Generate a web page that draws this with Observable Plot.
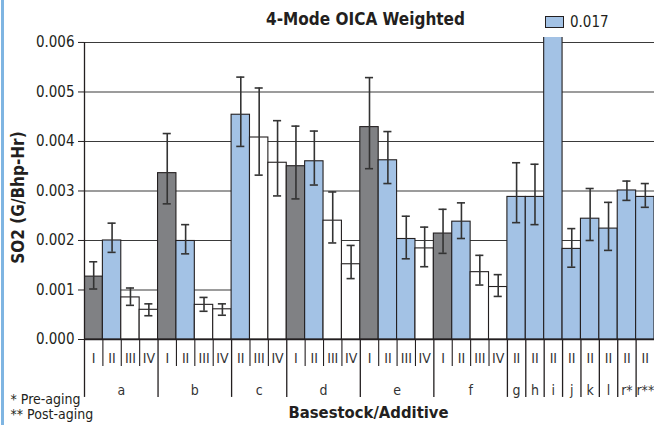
<!DOCTYPE html>
<html>
<head>
<meta charset="utf-8">
<script src="https://cdn.jsdelivr.net/npm/d3@7"></script>
<script src="https://cdn.jsdelivr.net/npm/@observablehq/plot@0.6"></script>
<style>
  html, body { margin: 0; padding: 0; background: #fff; }
  #wrap { position: relative; width: 654px; height: 425px; overflow: hidden;
    font-family: "Liberation Sans Narrow", "DejaVu Sans Condensed", "Arial Narrow", sans-serif; color: #231f20; }
  #edge { position: absolute; left: 1px; top: 0; width: 3px; height: 425px; background: #7fb5e2; }
  #legend { position: absolute; left: 545px; top: 13px; display: flex; align-items: center; font-size: 15px; }
  #legend .box { width: 17px; height: 10px; background: #a3c2e5; border: 1px solid #231f20; margin-right: 6px; }
</style>
</head>
<body>
<div id="wrap"><div id="edge"></div></div>
<script>
const basestock = ["a","a","a","a","b","b","b","b","c","c","c","d","d","d","d","e","e","e","e","f","f","f","f","g","h","i","j","k","l","r*","r**"];
const additive  = ["I","II","III","IV","I","II","III","IV","II","III","IV","I","II","III","IV","I","II","III","IV","I","II","III","IV","II","II","II","II","II","II","II","II"];
// colour key (bar e-III is drawn in the "II" colour)
const shade     = ["I","II","III","IV","I","II","III","IV","II","III","IV","I","II","III","IV","I","II","II","IV","I","II","III","IV","II","II","II","II","II","II","II","II"];
const so2       = [0.00127,0.00200,0.00085,0.00060, 0.00336,0.00199,0.00070,0.00061, 0.00454,0.00408,0.00357, 0.00350,0.00360,0.00240,0.00152, 0.00429,0.00362,0.00203,0.00184, 0.00214,0.00238,0.00136,0.00106, 0.00288,0.00288,0.017,0.00183,0.00244,0.00224,0.00301,0.00288];
const errHigh   = [0.00157,0.00235,0.00104,0.00072, 0.00416,0.00232,0.00085,0.00072, 0.00530,0.00508,0.00442, 0.00431,0.00421,0.00298,0.00190, 0.00529,0.00420,0.00249,0.00227, 0.00263,0.00276,0.00170,0.00131, 0.00357,0.00354,null,0.00224,0.00305,0.00277,0.00320,0.00315];
const errLow    = [0.00102,0.00176,0.00069,0.00048, 0.00274,0.00173,0.00057,0.00049, 0.00390,0.00332,0.00290, 0.00284,0.00312,0.00195,0.00123, 0.00345,0.00315,0.00163,0.00147, 0.00174,0.00204,0.00110,0.00087, 0.00236,0.00232,null,0.00146,0.00200,0.00180,0.00281,0.00267];
const yTicks    = [0, 0.001, 0.002, 0.003, 0.004, 0.005, 0.006];
const legendLabel = "0.017";

const rows = so2.map((v, i) => ({i, basestock: basestock[i], additive: additive[i], shade: shade[i], v, hi: errHigh[i], lo: errLow[i]}));
const n = rows.length;
const groups = [];
rows.forEach((r) => {
  const g = groups[groups.length - 1];
  if (!g || g.name !== r.basestock) groups.push({name: r.basestock, start: r.i, end: r.i + 1});
  else g.end = r.i + 1;
});
const groupStarts = new Set(groups.map(g => g.start));
const inner = d3.range(1, n).filter(i => !groupStarts.has(i));
const errRows = rows.filter(r => r.hi != null);

const ink = "#231f20";
const SHORT = -0.000545, LONG = -0.00117;
const font = '"Liberation Sans Narrow", "DejaVu Sans Condensed", "Arial Narrow", sans-serif';

const chart = Plot.plot({
  width: 654,
  height: 425,
  marginTop: 37,
  marginBottom: 86,
  marginLeft: 84,
  marginRight: 0,
  style: {fontFamily: font, fontSize: "15px", color: ink, background: "transparent", overflow: "visible"},
  x: {domain: [0, n], axis: null},
  y: {domain: [0, 0.0061], axis: null},
  color: {domain: ["I","II","III","IV"], range: ["#808184", "#a3c2e5", "#ffffff", "#ffffff"]},
  marks: [
    Plot.ruleY(yTicks.slice(1), {x1: 0, x2: n, stroke: "#3a3a3a", strokeWidth: 1.1}),
    Plot.rectY(rows, {x1: "i", x2: d => d.i + 1, y1: 0, y2: "v", fill: "shade", stroke: ink, strokeWidth: 1.1, clip: true}),
    Plot.ruleX(errRows, {x: d => d.i + 0.5, y1: "lo", y2: "hi", stroke: "#333", strokeWidth: 1.6}),
    Plot.ruleY(errRows, {x1: d => d.i + 0.28, x2: d => d.i + 0.72, y: "hi", stroke: "#333", strokeWidth: 1.6}),
    Plot.ruleY(errRows, {x1: d => d.i + 0.28, x2: d => d.i + 0.72, y: "lo", stroke: "#333", strokeWidth: 1.6}),
    Plot.ruleY([0], {x1: 0, x2: n, stroke: ink, strokeWidth: 1.3}),
    Plot.ruleX([0], {y1: 0, y2: 0.006, stroke: ink, strokeWidth: 1.3}),
    Plot.axisY({ticks: yTicks, tickFormat: d3.format(".3f"), tickSize: 6, tickPadding: 4, label: null, stroke: ink, fill: ink, fontSize: 15}),
    Plot.ruleX(inner, {x: d => d, y1: 0, y2: SHORT, stroke: ink, strokeWidth: 1.1}),
    Plot.ruleX(groups, {x: "start", y1: 0, y2: LONG, stroke: ink, strokeWidth: 1.3}),
    Plot.text(rows, {x: d => d.i + 0.5, text: "additive", frameAnchor: "bottom", lineAnchor: "middle", dy: 19, fontSize: 14, fill: "#333"}),
    Plot.text(groups, {x: d => (d.start + d.end) / 2, text: "name", frameAnchor: "bottom", lineAnchor: "middle", dy: 51, fontSize: 14, fill: "#333"}),
    Plot.text(["4-Mode OICA Weighted"], {frameAnchor: "top", lineAnchor: "middle", dx: -4, dy: -18, fontSize: 17, fontWeight: "bold", fill: ink}),
    Plot.text(["SO2 (G/Bhp-Hr)"], {frameAnchor: "left", textAnchor: "middle", lineAnchor: "middle", dx: -66, dy: 9, rotate: -90, fontSize: 17, fontWeight: "bold", fill: ink}),
    Plot.text(["Basestock/Additive"], {frameAnchor: "bottom", lineAnchor: "middle", dx: -1, dy: 73, fontSize: 16.5, fontWeight: "bold", fill: ink}),
    Plot.text(["* Pre-aging"], {frameAnchor: "bottom-left", lineAnchor: "middle", dx: -74, dy: 60, textAnchor: "start", fontSize: 14, fill: ink}),
    Plot.text(["** Post-aging"], {frameAnchor: "bottom-left", lineAnchor: "middle", dx: -74, dy: 75, textAnchor: "start", fontSize: 14, fill: ink})
  ]
});
chart.style.position = "absolute";
chart.style.left = "0px";
chart.style.top = "0px";
const wrap = document.getElementById("wrap");
wrap.appendChild(chart);
const legend = document.createElement("div");
legend.id = "legend";
legend.innerHTML = `<span class="box"></span><span>${legendLabel}</span>`;
wrap.appendChild(legend);
</script>
</body>
</html>
